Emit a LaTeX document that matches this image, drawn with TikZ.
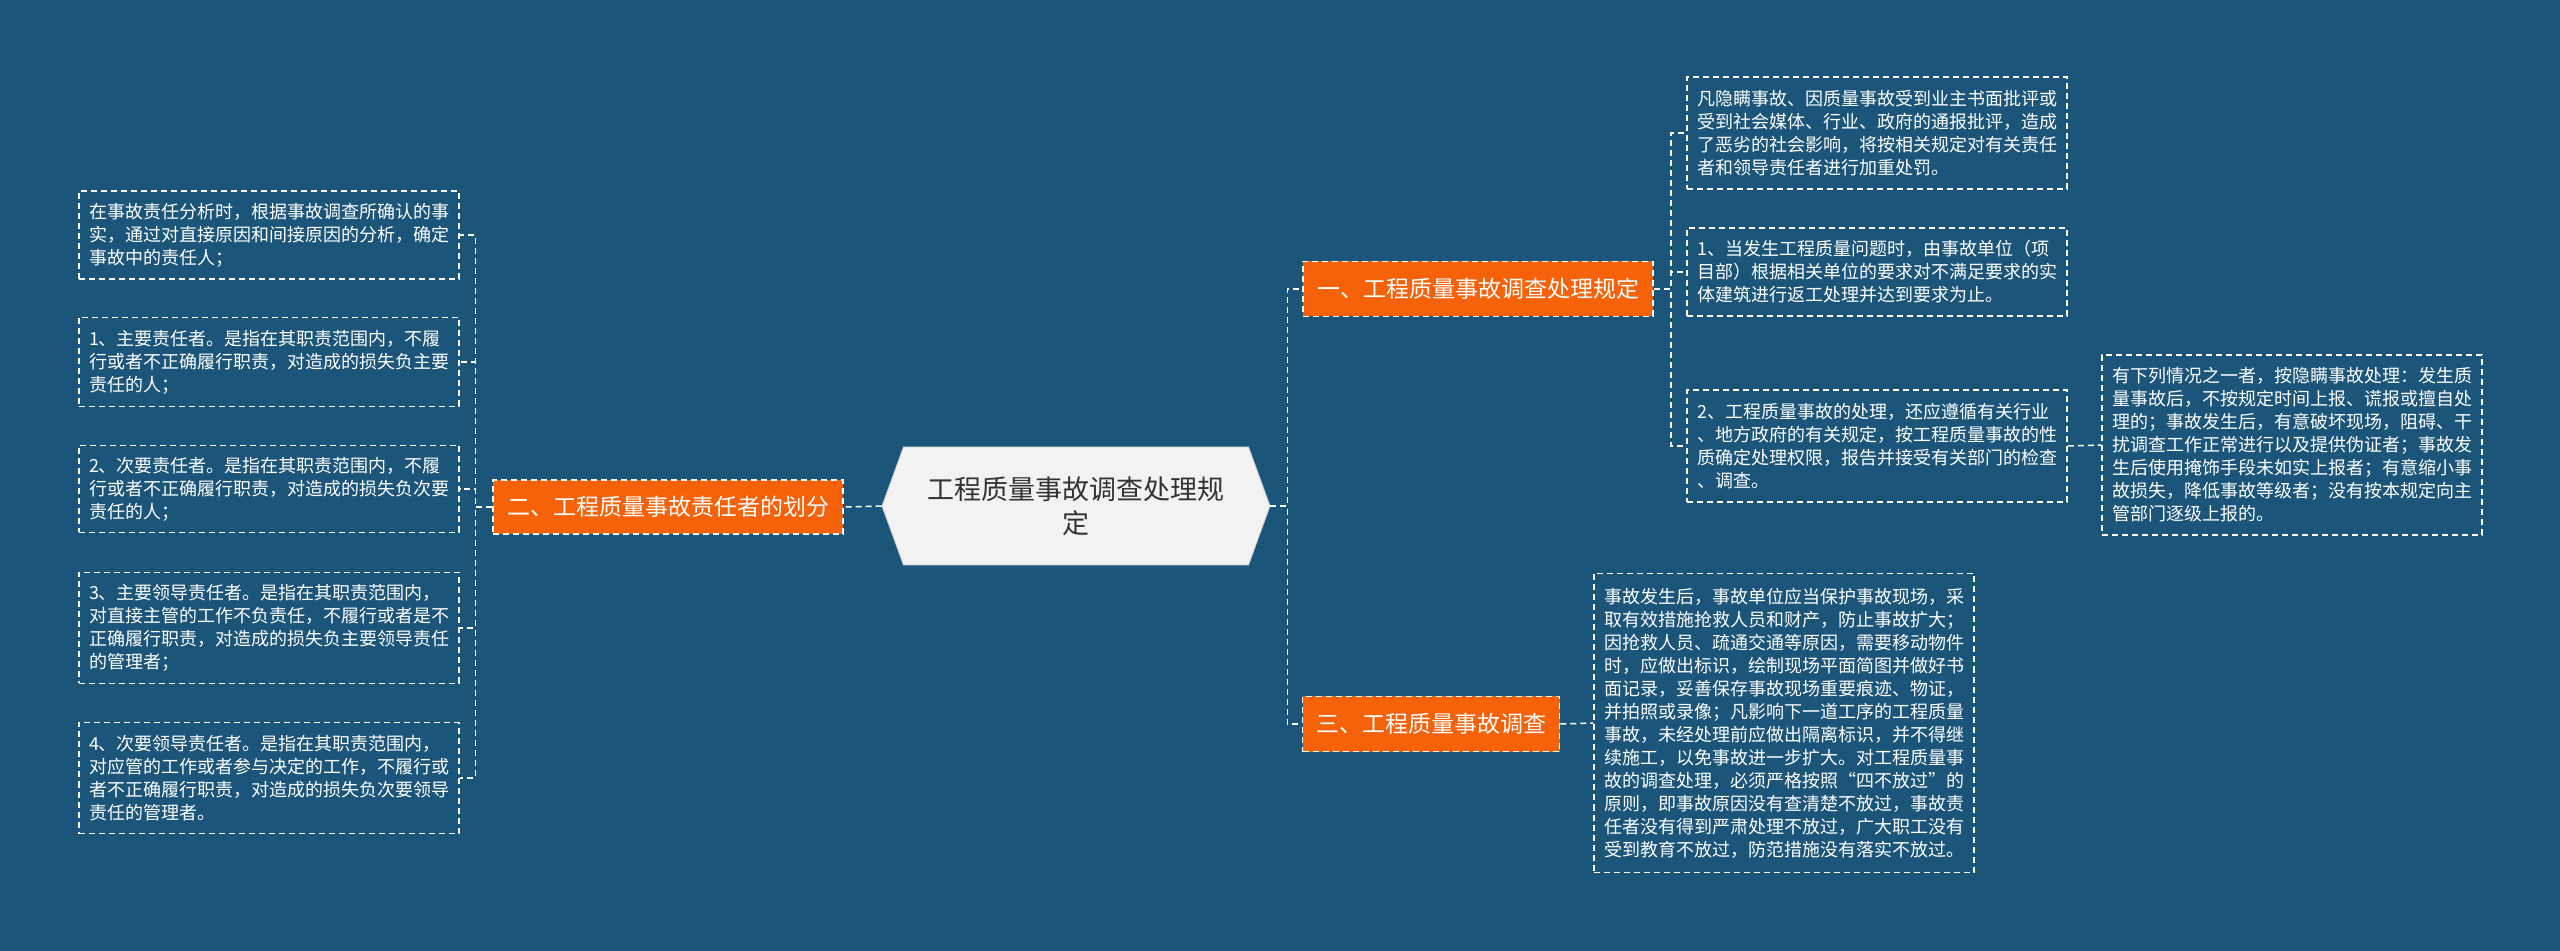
\documentclass[tikz,border=0pt]{standalone}
\usepackage{fontspec}
\setmainfont{Noto Sans CJK SC}
\usetikzlibrary{shapes.symbols}
\definecolor{bg}{HTML}{1B5579}
\definecolor{org}{HTML}{F5620A}
\tikzset{
  dsh/.style={draw=white, line width=0.75pt, dash pattern=on 3pt off 2pt},
  leaf/.style={dsh, text=white, font=\fontsize{9}{11.5}\selectfont, align=left, inner xsep=5pt, inner ysep=3pt},
  branch/.style={dsh, fill=org, text=white, font=\fontsize{11.5}{14}\selectfont, inner sep=0pt, align=center},
  link/.style={dsh}
}
\begin{document}
\begin{tikzpicture}[x=0.5pt,y=-0.5pt]
\fill[bg] (0,0) rectangle (2560,951);
\useasboundingbox (0,0) rectangle (2560,951);
% center
\node[shape=signal, signal to=west and east, signal pointer angle=140, fill=white!95!black, draw=white!80!black, minimum width=194pt, minimum height=59pt, inner sep=0pt, align=center, text=black!80, font=\fontsize{13.5}{17}\selectfont] (c) at (1076,506) {工程质量事故调查处理规\\定};
% branches
\node[branch, minimum width=175pt, minimum height=27pt] (b2) at (668,507) {二、工程质量事故责任者的划分};
\node[branch, minimum width=175pt, minimum height=27.5pt] (b1) at (1478,289) {一、工程质量事故调查处理规定};
\node[branch, minimum width=128.5pt, minimum height=27.5pt] (b3) at (1431,724) {三、工程质量事故调查};
% left leaves
\node[leaf, text width=180pt, minimum height=44pt] (l1) at (269,235) {在事故责任分析时，根据事故调查所确认的事\\实，通过对直接原因和间接原因的分析，确定\\事故中的责任人；};
\node[leaf, text width=180pt, minimum height=44.5pt] (l2) at (269,362) {1、主要责任者。是指在其职责范围内，不履\\行或者不正确履行职责，对造成的损失负主要\\责任的人；};
\node[leaf, text width=180pt, minimum height=43.5pt] (l3) at (269,489) {2、次要责任者。是指在其职责范围内，不履\\行或者不正确履行职责，对造成的损失负次要\\责任的人；};
\node[leaf, text width=180pt, minimum height=55.5pt] (l4) at (269,628) {3、主要领导责任者。是指在其职责范围内，\\对直接主管的工作不负责任，不履行或者是不\\正确履行职责，对造成的损失负主要领导责任\\的管理者；};
\node[leaf, text width=180pt, minimum height=55.5pt] (l5) at (269,778) {4、次要领导责任者。是指在其职责范围内，\\对应管的工作或者参与决定的工作，不履行或\\者不正确履行职责，对造成的损失负次要领导\\责任的管理者。};
% right leaves
\node[leaf, text width=180pt, minimum height=56pt] (r1) at (1877,133) {凡隐瞒事故、因质量事故受到业主书面批评或\\受到社会媒体、行业、政府的通报批评，造成\\了恶劣的社会影响，将按相关规定对有关责任\\者和领导责任者进行加重处罚。};
\node[leaf, text width=180pt, minimum height=44pt] (r2) at (1877,272) {1、当发生工程质量问题时，由事故单位（项\\目部）根据相关单位的要求对不满足要求的实\\体建筑进行返工处理并达到要求为止。};
\node[leaf, text width=180pt, minimum height=56pt] (r3) at (1877,446) {2、工程质量事故的处理，还应遵循有关行业\\、地方政府的有关规定，按工程质量事故的性\\质确定处理权限，报告并接受有关部门的检查\\、调查。};
\node[leaf, text width=180pt, minimum height=90pt] (r4) at (2292,445) {有下列情况之一者，按隐瞒事故处理：发生质\\量事故后，不按规定时间上报、谎报或擅自处\\理的；事故发生后，有意破坏现场，阻碍、干\\扰调查工作正常进行以及提供伪证者；事故发\\生后使用掩饰手段未如实上报者；有意缩小事\\故损失，降低事故等级者；没有按本规定向主\\管部门逐级上报的。};
\node[leaf, text width=180pt, minimum height=149.5pt] (r5) at (1784,723) {事故发生后，事故单位应当保护事故现场，采\\取有效措施抢救人员和财产，防止事故扩大；\\因抢救人员、疏通交通等原因，需要移动物件\\时，应做出标识，绘制现场平面简图并做好书\\面记录，妥善保存事故现场重要痕迹、物证，\\并拍照或录像；凡影响下一道工序的工程质量\\事故，未经处理前应做出隔离标识，并不得继\\续施工，以免事故进一步扩大。对工程质量事\\故的调查处理，必须严格按照“四不放过”的\\原则，即事故原因没有查清楚不放过，事故责\\任者没有得到严肃处理不放过，广大职工没有\\受到教育不放过，防范措施没有落实不放过。};
% connectors
\draw[link] (c.west) -- (b2.east);
\draw[link] (c.east) -- ++(17,0) |- (b1.west);
\draw[link] (c.east) -- ++(17,0) |- (b3.west);
\foreach \n in {l1,l2,l3,l4,l5} \draw[link] (b2.west) -- ++(-17,0) |- (\n.east);
\foreach \n in {r1,r2,r3} \draw[link] (b1.east) -- ++(17,0) |- (\n.west);
\draw[link] (r3.east) -- (r4.west);
\draw[link] (b3.west -| b3.east) -- (r5.west);
\end{tikzpicture}
\end{document}
